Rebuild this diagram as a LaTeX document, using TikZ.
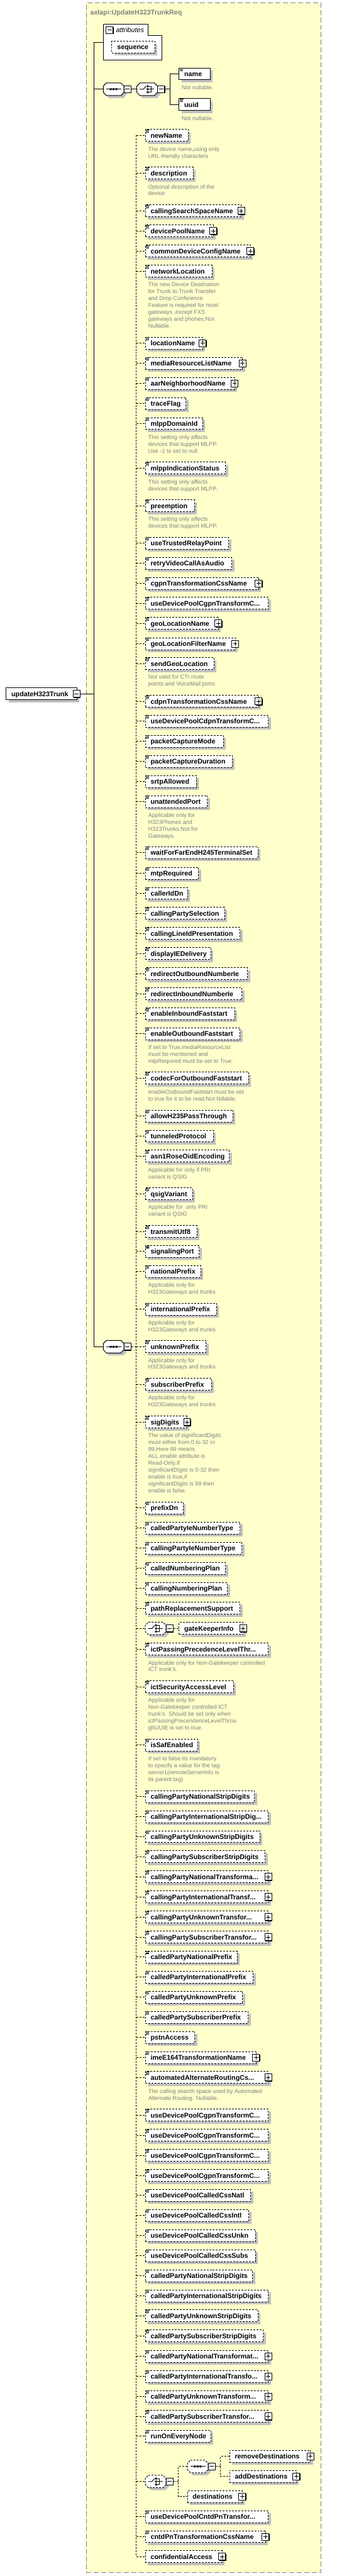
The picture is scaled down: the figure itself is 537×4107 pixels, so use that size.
\documentclass[tikz,border=0pt]{standalone}
\usepackage{fontspec}
\setmainfont{Liberation Sans}
\usetikzlibrary{fit,shadows}
\definecolor{bgyellow}{RGB}{255,255,204}
\definecolor{shgray}{RGB}{192,192,192}
\definecolor{txtgray}{RGB}{128,128,128}
\newcommand\elfont{\fontsize{10.8}{12}\selectfont\bfseries}
\newcommand\descfont{\fontsize{9.1}{11}\selectfont}
\tikzset{
  conn/.style={line width=1pt, draw=black},
  dconn/.style={conn, dash pattern=on 3pt off 2pt},
  elbox/.style={draw, line width=1pt, fill=white, inner sep=0pt, dash pattern=on 3pt off 2pt,
    drop shadow={shadow xshift=4pt, shadow yshift=-4pt, fill=shgray, opacity=1}},
  rootbox/.style={draw, line width=1pt, fill=white, inner sep=0pt, solid,
    drop shadow={shadow xshift=4pt, shadow yshift=-4pt, fill=shgray, opacity=1}},
  eltext/.style={anchor=base west, inner sep=0pt, font=\elfont},
  desc/.style={anchor=base west, inner sep=0pt, font=\descfont, text=txtgray},
  pmbox/.style={draw, line width=1pt, fill=white, solid, minimum size=11pt, inner sep=0pt,
    drop shadow={shadow xshift=1pt, shadow yshift=-1pt, fill=black, opacity=1}},
  minusbox/.style={pmbox, path picture={\draw[line width=1pt,solid]
    ([xshift=-3.5pt]path picture bounding box.center) -- ([xshift=3.5pt]path picture bounding box.center);}},
  plusbox/.style={pmbox, path picture={\draw[line width=1pt,solid]
    ([xshift=-3.5pt]path picture bounding box.center) -- ([xshift=3.5pt]path picture bounding box.center)
    ([yshift=-3.5pt]path picture bounding box.center) -- ([yshift=3.5pt]path picture bounding box.center);}},
  octsolid/.style={line width=1pt, fill=white, draw=black, solid},
  octdash/.style={line width=1pt, fill=white, draw=black, dash pattern=on 3pt off 2pt},
  frame/.style={draw=txtgray, fill=bgyellow, line width=1pt, inner sep=0pt, dash pattern=on 8pt off 4pt},
}
\newcommand\octpath{(-11.5,-10) -- (11.5,-10) -- (16.5,-5) -- (16.5,5) -- (11.5,10) -- (-11.5,10) -- (-16.5,5) -- (-16.5,-5) -- cycle}
% element: id, cy, right x, text, plus flag
\newcommand\xel[5]{%
  \node[elbox, fit={(232,{#2-9.5}) (#3,{#2+9.5})}] (#1) {};
  \node[eltext] (#1t) at (240,{#2+4}) {#4};
  \draw[line width=1pt] (233,{#2-9}) -- (239,{#2-9}) (233,{#2-7}) -- (238,{#2-7}) (233,{#2-5}) -- (238,{#2-5});
  \ifnum#5=1 \node[plusbox] (#1p) at (#3,#2) {};\fi
  \draw[dconn] (sp-top |- #1.west) -- (#1.west);
}
% element without icon: id, cy, left, right, text (always plus)
\newcommand\xelx[5]{%
  \node[elbox, fit={(#3,{#2-9.5}) (#4,{#2+9.5})}] (#1) {};
  \node[eltext] (#1t) at ({#3+8},{#2+4}) {#5};
  \node[plusbox] (#1p) at (#4,#2) {};
}
% description: id, cy of element, lines
\newcommand\xdesc[3]{%
  \foreach \dline [count=\i from 0] in {#3} {\node[desc] (#1d\i) at (236.3,{#2+24.8+11*\i}) {\dline};}
}
% octagon compositor: id, cx, cy, style
\newcommand\xoct[4]{%
  \fill[shgray, shift={({#2+4},{#3+4})}] \octpath;
  \draw[#4, shift={(#2,#3)}] \octpath;
  \node[inner sep=0pt, minimum width=33pt, minimum height=20pt] (#1) at (#2,#3) {};
  \node[minusbox] (#1m) at ({#2+22.3},#3) {};
}
\newcommand\xseqsym[2]{%
  \draw[line width=1pt, solid] ({#1-11.5},#2) -- ({#1+12.5},#2);
  \fill ({#1-6},{#2-1.5}) rectangle +(3,3) ({#1-1.5},{#2-1.5}) rectangle +(3,3) ({#1+3},{#2-1.5}) rectangle +(3,3);
}
\newcommand\xchsym[2]{%
  \draw[line width=1pt, solid] ({#1-12},#2) -- ({#1-6},#2) -- ({#1-2},{#2-4.5});
  \fill ({#1-0.8},{#2-6.2}) rectangle +(3,3) ({#1-0.8},{#2-1.5}) rectangle +(3,3) ({#1-0.8},{#2+3.2}) rectangle +(3,3);
  \draw[line width=1pt, solid] ({#1+2.5},{#2-4.7}) -- ({#1+6},{#2-4.7}) -- ({#1+6},{#2+4.7}) -- ({#1+2.5},{#2+4.7})
    ({#1+2.5},#2) -- ({#1+11},#2);
}
\begin{document}
\begin{tikzpicture}[x=1pt,y=-1pt]
\useasboundingbox (0,0) rectangle (537,4107);
\node[frame, fit={(137.7,5) (512.3,4101)}] (frame) {};
\node[eltext, text=txtgray] (title) at (143.7,23.5) {axlapi:UpdateH323TrunkReq};

\coordinate (m-top) at (150.3,67.3);
\coordinate (sp-top) at (217.3,216);
\coordinate (sp-bot) at (217.3,4076);

% root
\node[rootbox, fit={(10,1096.5) (122.7,1115.5)}] (root) {};
\node[eltext] (roott) at (18,1110) {updateH323Trunk};
\node[minusbox] (rootm) at (122.2,1106) {};
\draw[conn] (rootm.east) -- (m-top |- rootm.east);

% attributes
\draw[line width=1pt, fill=white] (164.7,38.3) -- (236.3,38.3) -- (236.3,56.7) -- (258.3,56.7) -- (258.3,95.7) -- (164.7,95.7) -- cycle;
\coordinate (attr) at (164.7,67.3);
\node[minusbox] (attrm) at (174.5,47.8) {};
\node[anchor=base west, inner sep=0pt, font=\fontsize{10.8}{12}\selectfont\itshape] (attrt) at (185,52) {attributes};
\node[elbox, fit={(178.3,65.7) (247,84.3)}] (seqattr) {};
\node[eltext] (seqattrt) at (186.7,79) {sequence};
\draw[conn] (attr) -- (m-top);

% first sequence / choice
\xoct{seq1}{181.2}{142.3}{octsolid}
\xseqsym{181.2}{142.3}
\xoct{ch1}{234.7}{142.3}{octsolid}
\xchsym{234.7}{142.3}
\coordinate (ch1j) at (271,142.3);
\node[rootbox, fit={(285.7,108.3) (335,127.3)}] (name) {};
\node[eltext] (namet) at (293.7,121.8) {name};
\draw[line width=1pt] (286.7,108.8) -- (292.7,108.8) (286.7,110.8) -- (291.7,110.8) (286.7,112.8) -- (291.7,112.8);
\node[desc] (named) at (289.7,142.6) {Not nullable.};
\node[rootbox, fit={(285.7,157.3) (335,176.3)}] (uuid) {};
\node[eltext] (uuidt) at (293.7,170.8) {uuid};
\draw[line width=1pt] (286.7,157.8) -- (292.7,157.8) (286.7,159.8) -- (291.7,159.8) (286.7,161.8) -- (291.7,161.8);
\node[desc] (uuidd) at (289.7,191.6) {Not nullable.};
\draw[conn] (m-top |- seq1.west) -- (seq1.west);
\draw[conn] (seq1m.east) -- (ch1.west);
\draw[conn] (ch1m.east) -- (ch1j);
\draw[conn] (name.west) -| (ch1j |- name.west) -- (ch1j |- uuid.west) -- (uuid.west);

% second sequence
\xoct{seq2}{181.2}{2147}{octsolid}
\xseqsym{181.2}{2147}
\coordinate (m-bot) at (m-top |- seq2.west);
\draw[conn] (m-top) -- (m-bot) -- (seq2.west);
\draw[dconn] (sp-top) -- (sp-bot);
\draw[dconn] (seq2m.east) -- (sp-top |- seq2m.east);

\xel{e1}{216}{300.3}{newName}{0}
\xdesc{e1}{216}{{The device name,using only},{URL-friendly characters}}
\xel{e2}{276}{308.3}{description}{0}
\xdesc{e2}{276}{{Optional description of the},{device}}
\xel{e3}{336}{385}{callingSearchSpaceName}{1}
\xel{e4}{368.3}{340}{devicePoolName}{1}
\xel{e5}{400.3}{399.3}{commonDeviceConfigName}{1}
\xel{e6}{432.3}{338.3}{networkLocation}{0}
\xdesc{e6}{432.3}{{The new Device Destination},{for Trunk to Trunk Transfer},{and Drop Conference},{Feature is required for most},{gateways ,except FXS},{gateways and phones.Not},{Nullable.}}
\xel{e7}{547.3}{323.3}{locationName}{1}
\xel{e8}{579.3}{387}{mediaResourceListName}{1}
\xel{e9}{611.3}{374}{aarNeighborhoodName}{1}
\xel{e10}{643.3}{296.7}{traceFlag}{0}
\xel{e11}{675.3}{323.3}{mlppDomainId}{0}
\xdesc{e11}{675.3}{{This setting only affects},{devices that support MLPP.},{Use -1 to set to null}}
\xel{e12}{746.3}{359.7}{mlppIndicationStatus}{0}
\xdesc{e12}{746.3}{{This setting only affects},{devices that support MLPP.}}
\xel{e13}{806.3}{310}{preemption}{0}
\xdesc{e13}{806.3}{{This setting only affects},{devices that support MLPP.}}
\xel{e14}{866}{364.7}{useTrustedRelayPoint}{0}
\xel{e15}{898}{369.7}{retryVideoCallAsAudio}{0}
\xel{e16}{930}{412.3}{cgpnTransformationCssName}{1}
\xel{e17}{962}{428}{useDevicePoolCgpnTransformC...}{0}
\xel{e18}{994}{348}{geoLocationName}{1}
\xel{e19}{1026.3}{375}{geoLocationFilterName}{1}
\xel{e20}{1058}{341.3}{sendGeoLocation}{0}
\xdesc{e20}{1058}{{Not valid for CTI route},{points and VoiceMail ports}}
\xel{e21}{1118}{412.3}{cdpnTransformationCssName}{1}
\xel{e22}{1150}{428}{useDevicePoolCdpnTransformC...}{0}
\xel{e23}{1182}{356}{packetCaptureMode}{0}
\xel{e24}{1214}{370.3}{packetCaptureDuration}{0}
\xel{e25}{1246}{313.3}{srtpAllowed}{0}
\xel{e26}{1278}{330.7}{unattendedPort}{0}
\xdesc{e26}{1278}{{Applicable only for},{H323Phones and},{H323Trunks.Not for},{Gateways.}}
\xel{e27}{1359.3}{411.3}{waitForFarEndH245TerminalSet}{0}
\xel{e28}{1392.3}{316.7}{mtpRequired}{0}
\xel{e29}{1424.3}{299}{callerIdDn}{0}
\xel{e30}{1456.3}{358}{callingPartySelection}{0}
\xel{e31}{1488.3}{383}{callingLineIdPresentation}{0}
\xel{e32}{1520.3}{336.3}{displayIEDelivery}{0}
\xel{e33}{1552.3}{394.7}{redirectOutboundNumberIe}{0}
\xel{e34}{1584.3}{386}{redirectInboundNumberIe}{0}
\xel{e35}{1616.3}{374.3}{enableInboundFaststart}{0}
\xel{e36}{1648.3}{383}{enableOutboundFaststart}{0}
\xdesc{e36}{1648.3}{{If set to True,mediaResourceList},{must be mentioned and},{mtpRequired must be set to True.}}
\xel{e37}{1719}{396.3}{codecForOutboundFaststart}{0}
\xdesc{e37}{1719}{{enableOutboundFaststart must be set},{to true for it to be read.Not Nillable.}}
\xel{e38}{1779.3}{371.3}{allowH235PassThrough}{0}
\xel{e39}{1811.3}{340}{tunneledProtocol}{0}
\xel{e40}{1843.3}{365.7}{asn1RoseOidEncoding}{0}
\xdesc{e40}{1843.3}{{Applicable for only if PRI},{variant is QSIG}}
\xel{e41}{1903.3}{307}{qsigVariant}{0}
\xdesc{e41}{1903.3}{{Applicable for\ \ only PRI},{variant is QSIG}}
\xel{e42}{1963.3}{314}{transmitUtf8}{0}
\xel{e43}{1995.3}{317.7}{signalingPort}{0}
\xel{e44}{2027.3}{320}{nationalPrefix}{0}
\xdesc{e44}{2027.3}{{Applicable only for},{H323Gateways and trunks}}
\xel{e45}{2087.3}{345.3}{internationalPrefix}{0}
\xdesc{e45}{2087.3}{{Applicable only for},{H323Gateways and trunks}}
\xel{e46}{2147}{328.7}{unknownPrefix}{0}
\xdesc{e46}{2147}{{Applicable only for},{H323Gateways and trunks}}
\xel{e47}{2207}{337.3}{subscriberPrefix}{0}
\xdesc{e47}{2207}{{Applicable only for},{H323Gateways and trunks}}
\xel{e48}{2267.3}{298.3}{sigDigits}{1}
\xdesc{e48}{2267.3}{{The value of significantDigits},{must either from 0 to 32 or},{99,Here 99 means},{ALL.enable attribute is},{Read-Only.If},{significantDigits is 0-32 then},{enable is true,if},{significantDigits is 99 then},{enable is false.}}
\xel{e49}{2404.3}{292}{prefixDn}{0}
\xel{e50}{2436.3}{383}{calledPartyIeNumberType}{0}
\xel{e51}{2468.3}{386}{callingPartyIeNumberType}{0}
\xel{e52}{2500.3}{359.7}{calledNumberingPlan}{0}
\xel{e53}{2532.3}{362.7}{callingNumberingPlan}{0}
\xel{e54}{2564.3}{383}{pathReplacementSupport}{0}

% optional choice with gateKeeperInfo
\xoct{ch2}{248.2}{2596.3}{octdash}
\xchsym{248.2}{2596.3}
\xelx{gk}{2596.3}{285.7}{388}{gateKeeperInfo}
\draw[dconn] (sp-top |- ch2.west) -- (ch2.west);
\draw[dconn] (ch2m.east) -- (gk.west);

\xel{e55}{2629.3}{428}{ictPassingPrecedenceLevelThr...}{0}
\xdesc{e55}{2629.3}{{Applicable only for Non-Gatekeeper controlled},{ICT trunk's.}}
\xel{e56}{2689.3}{372.3}{ictSecurityAccessLevel}{0}
\xdesc{e56}{2689.3}{{Applicable only for},{Non-Gatekeeper controlled ICT},{trunk's. Should be set only when},{ictPassingPrecendenceLevelThrou},{ghUUIE is set to true.}}
\xel{e57}{2782.3}{315}{isSafEnabled}{0}
\xdesc{e57}{2782.3}{{If set to false its mandatory},{to specify a value for the tag},{server1(remoteServerInfo is},{its parent tag)}}
\xel{e58}{2864.3}{405.7}{callingPartyNationalStripDigits}{0}
\xel{e59}{2896.3}{428}{callingPartyInternationalStripDig...}{0}
\xel{e60}{2928.3}{414.3}{callingPartyUnknownStripDigits}{0}
\xel{e61}{2960.3}{423}{callingPartySubscriberStripDigits}{0}
\xel{e62}{2992.3}{428}{callingPartyNationalTransforma...}{1}
\xel{e63}{3024.3}{428}{callingPartyInternationalTransf...}{1}
\xel{e64}{3056.3}{428}{callingPartyUnknownTransfor...}{1}
\xel{e65}{3088.3}{428}{callingPartySubscriberTransfor...}{1}
\xel{e66}{3120.3}{378.3}{calledPartyNationalPrefix}{0}
\xel{e67}{3152.3}{403.7}{calledPartyInternationalPrefix}{0}
\xel{e68}{3184.3}{387}{calledPartyUnknownPrefix}{0}
\xel{e69}{3216.3}{395.7}{calledPartySubscriberPrefix}{0}
\xel{e70}{3248.3}{310.7}{pstnAccess}{0}
\xel{e71}{3280.3}{408.3}{imeE164TransformationName}{1}
\xel{e72}{3312.3}{428}{automatedAlternateRoutingCs...}{1}
\xdesc{e72}{3312.3}{{The calling search space used by Automated},{Alternate Routing. Nullable.}}
\xel{e73}{3372.3}{428}{useDevicePoolCgpnTransformC...}{0}
\xel{e74}{3404.3}{428}{useDevicePoolCgpnTransformC...}{0}
\xel{e75}{3436.3}{428}{useDevicePoolCgpnTransformC...}{0}
\xel{e76}{3468.3}{428}{useDevicePoolCgpnTransformC...}{0}
\xel{e77}{3500.3}{399.7}{useDevicePoolCalledCssNatl}{0}
\xel{e78}{3532.3}{396.7}{useDevicePoolCalledCssIntl}{0}
\xel{e79}{3564.3}{407.3}{useDevicePoolCalledCssUnkn}{0}
\xel{e80}{3596.3}{407.3}{useDevicePoolCalledCssSubs}{0}
\xel{e81}{3628.3}{402.7}{calledPartyNationalStripDigits}{0}
\xel{e82}{3660.3}{428}{calledPartyInternationalStripDigits}{0}
\xel{e83}{3692.3}{411.3}{calledPartyUnknownStripDigits}{0}
\xel{e84}{3724.3}{420}{calledPartySubscriberStripDigits}{0}
\xel{e85}{3756.7}{428}{calledPartyNationalTransformat...}{1}
\xel{e86}{3788.7}{428}{calledPartyInternationalTransfo...}{1}
\xel{e87}{3820.7}{428}{calledPartyUnknownTransform...}{1}
\xel{e88}{3852.7}{428}{calledPartySubscriberTransfor...}{1}
\xel{e89}{3884.3}{336.3}{runOnEveryNode}{0}

% optional choice with destinations
\xoct{ch3}{248.2}{3956.3}{octdash}
\xchsym{248.2}{3956.3}
\coordinate (ch3j) at (284.3,3956.3);
\xoct{seq3}{315.3}{3932.3}{octdash}
\xseqsym{315.3}{3932.3}
\coordinate (s3j) at (351.7,3932.3);
\xelx{rem}{3916.3}{366.3}{495.3}{removeDestinations}
\xelx{add}{3948.3}{366.3}{472.7}{addDestinations}
\xelx{dest}{3980.3}{299}{386.3}{destinations}
\draw[dconn] (sp-top |- ch3.west) -- (ch3.west);
\draw[dconn] (ch3m.east) -- (ch3j);
\draw[dconn] (seq3.west) -| (ch3j |- seq3.west) -- (ch3j |- dest.west) -- (dest.west);
\draw[dconn] (seq3m.east) -- (s3j);
\draw[dconn] (rem.west) -| (s3j |- rem.west) -- (s3j |- add.west) -- (add.west);

\xel{e90}{4012.3}{428}{useDevicePoolCntdPnTransfor...}{0}
\xel{e91}{4044.3}{423.3}{cntdPnTransformationCssName}{1}
\xelx{e92}{4076}{232}{354}{confidentialAccess}
\draw[dconn] (sp-bot) -- (e92.west);
\end{tikzpicture}
\end{document}
